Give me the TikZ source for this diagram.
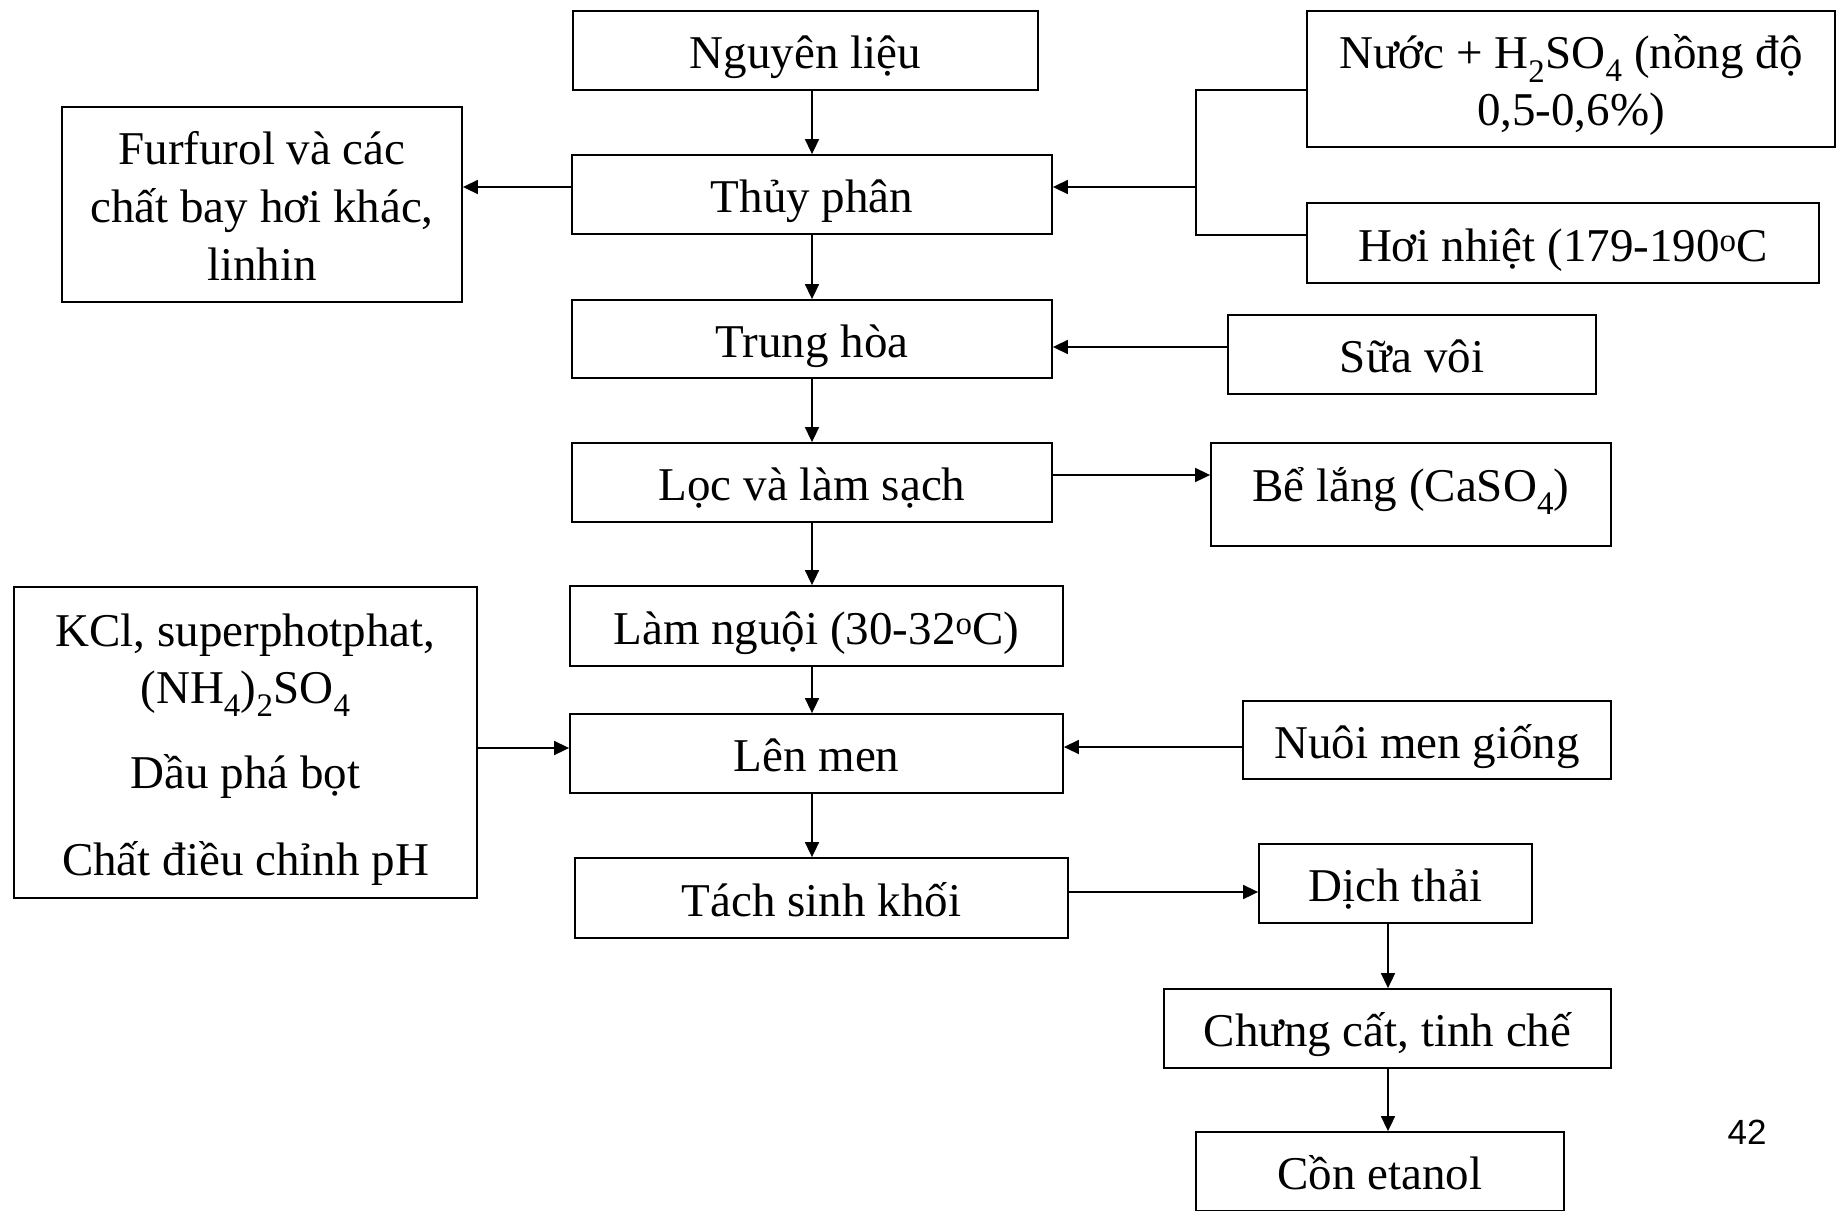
\documentclass[tikz,border=0pt]{standalone}
\usepackage{fontspec}
\setmainfont{Liberation Serif}
\newfontfamily\pagenumfont{Liberation Sans}
\usetikzlibrary{arrows.meta}
% several centred lines, lowered without changing the reported size
\newcommand{\boxlines}[2]{\raisebox{-#1}[\height][\depth]{\begin{tabular}{@{}c@{}}#2\end{tabular}}}
\begin{document}
\begin{tikzpicture}[x=1pt,y=-1pt,
  box/.style={draw, line width=1.8pt, inner sep=0pt, align=center,
    font=\fontsize{47}{57}\selectfont},
  sbox/.style={box, text height=41pt, text depth=5pt},
  link/.style={line width=1.6pt},
  arr/.style={link, -{Triangle[length=15pt,width=14pt]}}]
\useasboundingbox (0,0) rectangle (1844,1210);

% main process column
\node[sbox, minimum width=465pt, minimum height=79pt] (nguyen) at (805.5,50.5) {Nguyên liệu};
\node[sbox, minimum width=480pt, minimum height=79pt] (thuy) at (812,194.5) {Thủy phân};
\node[sbox, minimum width=480pt, minimum height=78pt] (trung) at (812,339) {Trung hòa};
\node[sbox, minimum width=480pt, minimum height=79pt] (loc) at (812,482.5) {Lọc và làm sạch};
\node[sbox, minimum width=493pt, minimum height=80pt] (lamng) at (816.5,626) {Làm nguội (30-32\textsuperscript{o}C)};
\node[sbox, minimum width=493pt, minimum height=79pt] (len) at (816.5,753.5) {Lên men};
\node[sbox, minimum width=493pt, minimum height=80pt] (tach) at (821.5,898) {Tách sinh khối};

% side inputs and outputs
\node[box, minimum width=400pt, minimum height=195pt] (furf) at (262,204.5)
  {\boxlines{7pt}{Furfurol và các\\[1pt]chất bay hơi khác,\\[1pt]linhin}};
\node[box, minimum width=528pt, minimum height=136pt] (nuoc) at (1571,79)
  {\boxlines{7pt}{Nước + H\textsubscript{2}SO\textsubscript{4} (nồng độ\\0,5-0,6\%)}};
\node[sbox, minimum width=512pt, minimum height=80pt] (hoi) at (1563,243) {Hơi nhiệt (179-190\textsuperscript{o}C};
\node[sbox, minimum width=368pt, minimum height=79pt] (sua) at (1412,354.5) {Sữa vôi};
\node[box, text height=20pt, text depth=7pt, minimum width=400pt, minimum height=103pt] (be) at (1411,494.5) {Bể lắng (CaSO\textsubscript{4})};
\node[box, minimum width=463pt, minimum height=311pt] (kcl) at (245.5,742.5)
  {\boxlines{7pt}{KCl, superphotphat,\\(NH\textsubscript{4})\textsubscript{2}SO\textsubscript{4}\\[28pt]
   Dầu phá bọt\\[30pt]Chất điều chỉnh pH}};
\node[sbox, minimum width=368pt, minimum height=78pt] (nuoi) at (1427,740) {Nuôi men giống};

% waste stream column
\node[sbox, minimum width=273pt, minimum height=79pt] (dich) at (1395.5,883.5) {Dịch thải};
\node[sbox, minimum width=447pt, minimum height=79pt] (chung) at (1387.5,1028.5) {Chưng cất, tinh chế};
\node[sbox, minimum width=368pt, minimum height=79pt] (con) at (1380,1171.5) {Cồn etanol};

\node[font=\pagenumfont\fontsize{35}{40}\selectfont] (pagenum) at (1747,1132) {42};

% junction points
\coordinate (mainx) at (812,0);
\coordinate (fork) at (1196,187);
\coordinate (forktop) at (1196,90);
\coordinate (forkbot) at (1196,235);
\coordinate (wastex) at (1388,0);

% vertical flow
\draw[arr] (nguyen.south -| mainx) -- (thuy.north -| mainx);
\draw[arr] (thuy.south -| mainx) -- (trung.north -| mainx);
\draw[arr] (trung.south -| mainx) -- (loc.north -| mainx);
\draw[arr] (loc.south -| mainx) -- (lamng.north -| mainx);
\draw[arr] (lamng.south -| mainx) -- (len.north -| mainx);
\draw[arr] (len.south -| mainx) -- (tach.north -| mainx);
\draw[arr] (dich.south -| wastex) -- (chung.north -| wastex);
\draw[arr] (chung.south -| wastex) -- (con.north -| wastex);

% hydrolysis inputs and by-products
\draw[link] (nuoc.west |- forktop) -- (forktop) -- (forkbot) -- (hoi.west |- forkbot);
\draw[arr] (fork) -- (thuy.east |- fork);
\draw[arr] (thuy.west |- fork) -- (furf.east |- fork);

% horizontal links
\draw[arr] (sua.west |- 0,347) -- (trung.east |- 0,347);
\draw[arr] (loc.east |- 0,475) -- (be.west |- 0,475);
\draw[arr] (kcl.east |- 0,748) -- (len.west |- 0,748);
\draw[arr] (nuoi.west |- 0,747) -- (len.east |- 0,747);
\draw[arr] (tach.east |- 0,892) -- (dich.west |- 0,892);
\end{tikzpicture}
\end{document}
